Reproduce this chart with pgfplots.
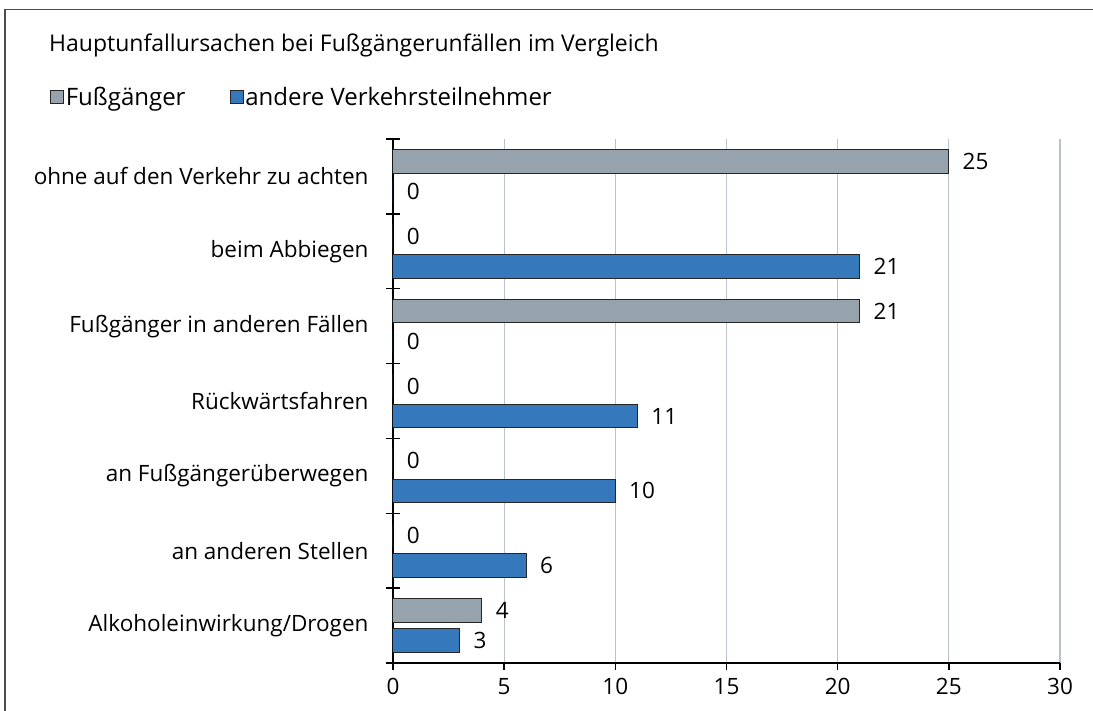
\documentclass[border=0pt]{standalone}
\usepackage{pgfplots}
\pgfplotsset{compat=1.18}
\usepackage{fontspec}
\setmainfont{Open Sans}
\newfontfamily\titlefont{Open Sans}
\definecolor{cgrey}{HTML}{97A3AC}
\definecolor{cblue}{HTML}{3579BC}
\definecolor{cgrid}{HTML}{B8C2CC}
\begin{document}
\begin{tikzpicture}[x=1pt,y=1pt]
\useasboundingbox (0,0) rectangle (1093,711);
\draw[color=black!70, line width=1.3pt] (5,-5) -- (5,701.5) -- (1100,701.5);
\node[anchor=base west, inner sep=0, font=\titlefont\fontsize{23}{27}\selectfont] at (49,659) {Hauptunfallursachen bei Fußgängerunfällen im Vergleich};
\begin{axis}[
  at={(393pt,48pt)}, anchor=south west,
  scale only axis, width=667pt, height=524pt,
  font=\fontsize{22.5}{26}\selectfont,
  /pgf/number format/assume math mode=true,
  xbar, bar width=23.5pt,
  xmin=0, xmax=30, ymin=-0.5, ymax=6.5,
  axis x line=bottom, axis y line=left,
  axis line style={-, line width=1.5pt, black},
  xtick={0,5,...,30},
  tick align=outside,
  major tick length=7pt,
  minor tick length=14pt,
  tick style={line width=1.5pt, black},
  ytick={0,...,6},
  yticklabels={Alkoholeinwirkung/Drogen, an anderen Stellen, an Fußgängerüberwegen, Rückwärtsfahren, Fußgänger in anderen Fällen, beim Abbiegen, ohne auf den Verkehr zu achten},
  major y tick style={draw=none},
  minor ytick={-0.5,0.5,1.5,2.5,3.5,4.5,5.5,6.5},
  minor y tick style={xshift=7pt},
  yticklabel style={xshift=-14pt},
  xticklabel style={yshift=-5pt},
  xmajorgrids, major x grid style={cgrid, line width=1.3pt},
  nodes near coords,
  nodes near coords style={anchor=west, xshift=10pt, black},
  legend style={at={(-0.519,1.08)}, anchor=west, draw=none, fill=none, legend columns=2,
    /tikz/every even column/.append style={column sep=42pt}, font=\fontsize{24}{28}\selectfont,
    nodes={inner sep=2pt}},
  legend image code/.code={\draw[#1, draw=black!85, line width=0.8pt] (0pt,-6.5pt) rectangle (13pt,6.5pt);},
]
\addplot[fill=cgrey, draw=black!85, line width=1pt, bar shift=15pt] coordinates {(25,6) (0,5) (21,4) (0,3) (0,2) (0,1) (4,0)};
\addplot[fill=cblue, draw=black!85, line width=1pt, bar shift=-15pt] coordinates {(0,6) (21,5) (0,4) (11,3) (10,2) (6,1) (3,0)};
\legend{Fußgänger, andere Verkehrsteilnehmer}
\end{axis}
\end{tikzpicture}
\end{document}
